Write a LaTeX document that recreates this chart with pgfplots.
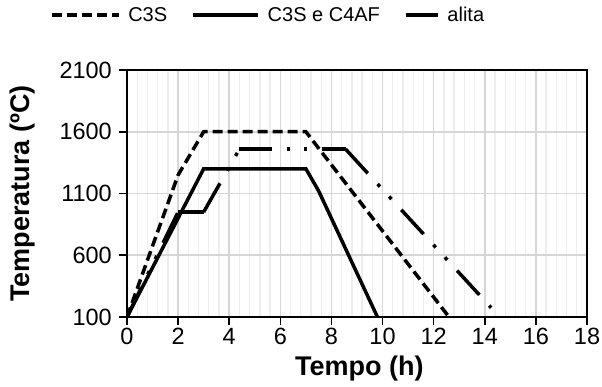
\documentclass[border=0pt]{standalone}
\usepackage{pgfplots}
\pgfplotsset{compat=1.18}
\usepackage{fontspec}
\setmainfont{Liberation Sans}

\definecolor{majorgrid}{HTML}{D6D6D6}
\definecolor{minorgrid}{HTML}{EEEEEE}

% Firing schedules: temperature (ºC) against time (h).
% The alita schedule is drawn segment by segment, so that its
% dash-dot-dot pattern starts afresh at every corner.
\pgfplotsset{
  alitastyle/.style={black, line width=3.5pt, line cap=butt,
    dash pattern=on 33pt off 14.5pt on 3.5pt off 13.5pt on 3.5pt off 14.5pt},
}

\begin{document}
\begin{tikzpicture}
\useasboundingbox (0,0) rectangle (602pt,387pt);
\begin{axis}[
  at={(127pt,70pt)}, anchor=south west,
  scale only axis, width=460pt, height=247pt,
  xmin=0, xmax=18, ymin=100, ymax=2100,
  xtick={0,2,...,18}, ytick={100,600,1100,1600,2100},
  minor x tick num=4,
  grid=both,
  major grid style={majorgrid, line width=1.6pt},
  minor grid style={minorgrid, line width=1.4pt},
  minor tick length=0pt,
  tick align=outside, major tick length=8pt,
  xtick pos=bottom, ytick pos=left,
  tick style={black, line width=1.6pt},
  axis line style={black, line width=2.2pt},
  /pgf/number format/assume math mode=true,
  /pgf/number format/set thousands separator={},
  tick label style={font=\fontsize{23.5}{27}\selectfont},
  yticklabel style={inner sep=2pt, xshift=-5pt},
  xticklabel style={inner sep=2pt, yshift=-1pt},
  xlabel={\bfseries Tempo (h)},
  ylabel={\bfseries Temperatura (ºC)},
  label style={font=\fontsize{27}{32}\selectfont},
  xlabel style={at={(axis description cs:0.505,-0.21)}, anchor=center},
  ylabel style={at={(axis description cs:-0.228,0.5)}, anchor=center},
  legend columns=3,
  legend style={
    at={(axis description cs:0.3065,1.2227)}, anchor=center,
    draw=none, fill=none,
    font=\fontsize{20}{24}\selectfont,
    /tikz/every odd column/.append style={column sep=6pt},
    /tikz/every even column/.append style={column sep=22pt},
  },
  legend cell align=left,
]
\addplot[black, line width=3.5pt, dash pattern=on 10pt off 5pt,
  legend image code/.code={\draw (0pt,0pt) -- (67pt,0pt);}]
  coordinates {(0,100) (2,1250) (3,1600) (7,1600) (12.6,100)};
\addlegendentry{C3S}

\addplot[black, line width=3.5pt,
  legend image code/.code={\draw (0pt,0pt) -- (65pt,0pt);}]
  coordinates {(0,100) (3,1300) (7,1300) (7.5,1120) (9.8,100)};
\addlegendentry{C3S e C4AF}

\addplot[alitastyle,
  legend image code/.code={\draw[solid] (0pt,0pt) -- (32pt,0pt);}]
  coordinates {(0,100) (2,950)};
\addlegendentry{alita}
\addplot[alitastyle, forget plot] coordinates {(2,950) (3,950)};
\addplot[alitastyle, forget plot] coordinates {(3,950) (4.4,1460)};
\addplot[alitastyle, forget plot] coordinates {(4.4,1460) (8.55,1460)};
\addplot[alitastyle, forget plot] coordinates {(8.55,1460) (14.25,175)};
\end{axis}
\end{tikzpicture}
\end{document}
